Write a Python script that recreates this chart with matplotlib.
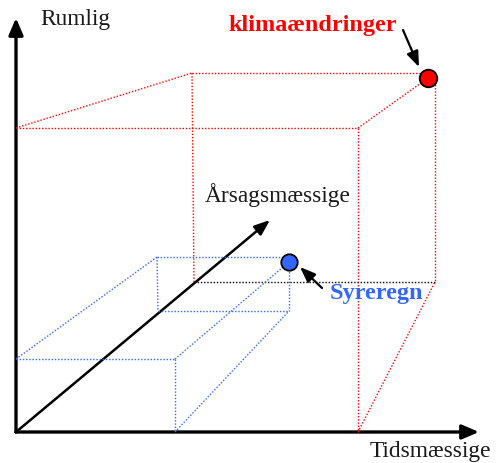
import matplotlib
matplotlib.use("Agg")
import matplotlib.pyplot as plt
from matplotlib.patches import FancyArrowPatch

W, H = 497, 463
RED = "#ff0000"
BLUE = "#3366ff"

# Diagram geometry (pixel space, y downwards)
origin = (16, 432)
y_axis_tip = (16, 18)
x_axis_tip = (479, 432)
diag_tip = (270, 220)

# Red box: front face corners and back face corners (TL, TR, BR, BL)
red_front = [(16, 128), (358, 128), (358, 432), (16, 432)]
red_back = [(192, 73), (435, 78), (435, 282), (194, 282)]
red_point = (428, 78)

# Blue box
blue_front = [(16, 359), (175, 359), (175, 432), (16, 432)]
blue_back = [(157, 257), (289, 262), (289, 311), (158, 311)]
blue_point = (289, 262)

labels = {
    "Rumlig": (40, 20),
    "Årsagsmæssige": (205, 195),
    "Tidsmæssige": (370, 452),
}
label_climate = ("klimaændringer", (228, 25))
label_acid = ("Syreregn", (330, 293))
climate_arrow = [(403, 30), (419, 67)]
acid_arrow = [(322, 288), (300, 267)]

fig = plt.figure(figsize=(W / 100, H / 100), dpi=100)
ax = fig.add_axes([0, 0, 1, 1])
ax.set_xlim(0, W)
ax.set_ylim(H, 0)
ax.axis("off")

dot = dict(lw=1.0, linestyle=(0, (1, 1.3)))

def seg(p, q, color):
    ax.plot([p[0], q[0]], [p[1], q[1]], color=color, **dot)

# Red box
rf, rb = red_front, red_back
seg(rf[0], rf[1], RED)                       # front top
seg(rf[1], rf[2], RED)                       # front right
seg(rf[0], rb[0], RED)                       # top-left depth
seg(rb[0], (red_point[0] - 7, rb[0][1]), RED)  # back top
seg(rb[0], rb[3], RED)                       # back left
seg(rf[1], red_point, RED)                   # top-right depth
seg(rb[1], rb[2], RED)                       # back right
seg(rf[2], rb[2], RED)                       # bottom-right depth
seg(rb[3], rb[2], "black")                   # back bottom (black dotted)

# Blue box
bf, bb = blue_front, blue_back
seg(bf[0], bf[1], BLUE)
seg(bf[1], bf[2], BLUE)
seg(bf[0], bb[0], BLUE)
seg(bb[0], (bb[1][0] - 6, bb[0][1]), BLUE)
seg(bb[0], bb[3], BLUE)
seg(bf[1], bb[1], BLUE)
seg(bb[1], bb[2], BLUE)
seg(bb[3], bb[2], BLUE)
seg(bf[2], bb[2], BLUE)

def arrow(p, q, lw=2.2, hw=6, hl=14):
    a = FancyArrowPatch(p, q, arrowstyle=f"-|>,head_width={hw * 0.72},head_length={hl * 0.72}",
                        lw=lw, color="black", shrinkA=0, shrinkB=0, mutation_scale=1)
    ax.add_patch(a)

# Axes
arrow(origin, y_axis_tip, lw=2.4, hw=6, hl=14)
arrow(origin, x_axis_tip, lw=2.4, hw=6, hl=14)
arrow(origin, diag_tip, lw=1.8, hw=5, hl=13)
arrow(*climate_arrow, lw=1.6, hw=5, hl=13)
arrow(*acid_arrow, lw=1.6, hw=5, hl=13)

# Points
ax.scatter([red_point[0]], [red_point[1]], s=160, color=RED, edgecolor="black", linewidth=1.3, zorder=5)
ax.scatter([blue_point[0]], [blue_point[1]], s=140, color=BLUE, edgecolor="black", linewidth=1.3, zorder=5)

serif = ["Liberation Serif", "DejaVu Serif"]
for txt, (x, y) in labels.items():
    ax.text(x, y, txt, fontsize=16.8, family=serif, color="#1a1a1a", ha="left", va="center")
ax.text(label_climate[1][0], label_climate[1][1], label_climate[0], fontsize=17.5, family=serif,
        fontweight="bold", color=RED, ha="left", va="center")
ax.text(label_acid[1][0], label_acid[1][1], label_acid[0], fontsize=17.5, family=serif,
        fontweight="bold", color=BLUE, ha="left", va="center")

fig.savefig("out.png", dpi=100)
